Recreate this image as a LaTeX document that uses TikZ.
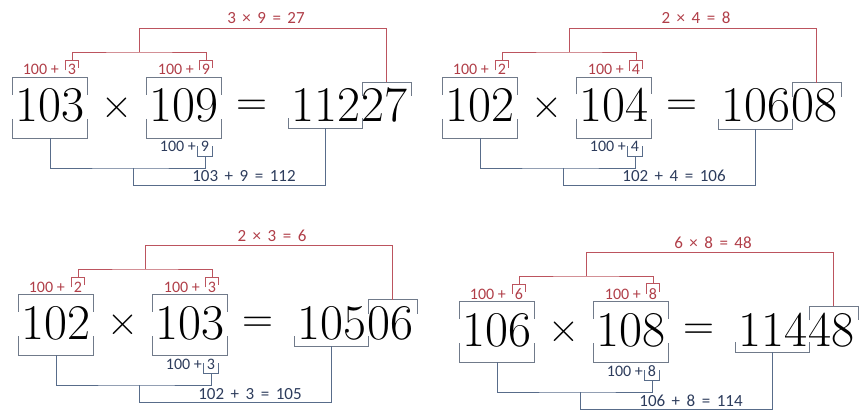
\documentclass[tikz,border=0pt]{standalone}
\usepackage{fontspec}
\newfontfamily\labfont{Carlito}
\usetikzlibrary{calc}
\definecolor{rd}{RGB}{188,84,94}
\definecolor{rdt}{RGB}{176,62,72}
\definecolor{bx}{RGB}{112,122,138}
\definecolor{bl}{RGB}{88,108,138}
\definecolor{blt}{RGB}{45,60,92}
\newcommand{\gp}{\hspace{6.5pt}}
\begin{document}
\begin{tikzpicture}[x=1pt,y=1pt,
  big/.style={font=\fontsize{50}{50}\selectfont, inner sep=0pt},
  op/.style={font=\fontsize{43}{43}\selectfont, inner sep=0pt},
  lab/.style={font=\labfont\fontsize{16}{16}\selectfont, inner sep=0pt},
  eqlab/.style={font=\labfont\fontsize{17}{17}\selectfont, inner sep=0pt},
  rl/.style={lab, text=rdt},
  bt/.style={lab, text=blt},
  rle/.style={eqlab, text=rdt},
  bte/.style={eqlab, text=blt},
  rline/.style={draw=rd, line width=0.8pt},
  bline/.style={draw=bl, line width=0.8pt},
  gline/.style={draw=bx, line width=0.8pt}]
\useasboundingbox (0,0) rectangle (861,-414);
\foreach \p/\sx/\sy/\A/\B/\RH/\RT/\da/\db/\vP in
  {qa/0/0/103/109/112/27/3/9/27,
   qb/430/0/102/104/106/08/2/4/8,
   qc/6/-217/102/103/105/06/2/3/6,
   qd/447/-224/106/108/114/48/6/8/48}{
\begin{scope}[shift={(\sx,\sy)}]
  % big equation
  \node[big,anchor=base] (\p A) at (50,-122) {\A};
  \node[op,anchor=center] (\p X) at (117,-108) {×};
  \node[big,anchor=base] (\p B) at (184,-122) {\B};
  \node[op,anchor=center] (\p E) at (252,-108) {=};
  \node[big,anchor=base east] (\p H) at (361,-122) {\RH};
  \node[big,anchor=base west] (\p T) at (361,-122) {\RT};
  % brackets round the numbers
  \draw[gline] ($(\p A.north west)+(-3,-6)$) -- ++(0,17) -| ($(\p A.north east)+(3,-6)$);
  \draw[gline] ($(\p A.south west)+(-3,4)$) -- ++(0,-19) -| ($(\p A.south east)+(3,4)$);
  \draw[gline] ($(\p B.north west)+(-3,-6)$) -- ++(0,17) -| ($(\p B.north east)+(3,-6)$);
  \draw[gline] ($(\p B.south west)+(-3,4)$) -- ++(0,-19) -| ($(\p B.south east)+(3,4)$);
  \draw[gline] ($(\p H.south west)+(-3,4)$) -- ++(0,-10) -| ($(\p H.south east)+(1,4)$);
  \draw[gline] ($(\p T.north west)+(1,-8)$) -- ++(0,14) -| ($(\p T.north east)+(4,-8)$);
  % top labels
  \node[rl,anchor=base east] (\p ta) at (59,-75) {100 +};
  \node[rl,anchor=base] (\p tad) at (72,-75) {\da};
  \node[rl,anchor=base east] (\p tb) at (194,-75) {100 +};
  \node[rl,anchor=base] (\p tbd) at (206,-75) {\db};
  \draw[rline] ($(\p tad.north west)+(-2,-6)$) -- ++(0,10) -| ($(\p tad.north east)+(2,-4)$);
  \draw[rline] ($(\p tbd.north west)+(-2,-6)$) -- ++(0,10) -| ($(\p tbd.north east)+(2,-4)$);
  \coordinate (\p j1) at (139,-52);
  \coordinate (\p j2) at (139,-28);
  \draw[rline] ($(\p tad.north)+(0,4)$) |- (\p j1) -| ($(\p tbd.north)+(0,4)$);
  \draw[rline] (\p j1) -- (\p j2) -| ($(\p T.north)+(2.5,6)$);
  \node[rle,anchor=base] (\p P) at (266,-24) {\da\gp×\gp\db\gp=\gp\vP};
  % bottom labels
  \node[bt,anchor=base east] (\p bb) at (196,-152) {100 +};
  \node[bt,anchor=base] (\p bbd) at (205,-152) {\db};
  \draw[bline] ($(\p bbd.south west)+(-3,6)$) -- ++(0,-10) -| ($(\p bbd.south east)+(3,6)$);
  \coordinate (\p j3) at (133,-168);
  \coordinate (\p j4) at (133,-185);
  \draw[bline] ($(\p A.south)+(0,-15)$) |- (\p j3) -| ($(\p bbd.south)+(0,-4)$);
  \draw[bline] (\p j3) -- (\p j4) -| ($(\p H.south)+(-1,-6)$);
  \node[bte,anchor=base] (\p S) at (244,-182) {\A\gp+\gp\db\gp=\gp\RH};
\end{scope}
}
\end{tikzpicture}
\end{document}
